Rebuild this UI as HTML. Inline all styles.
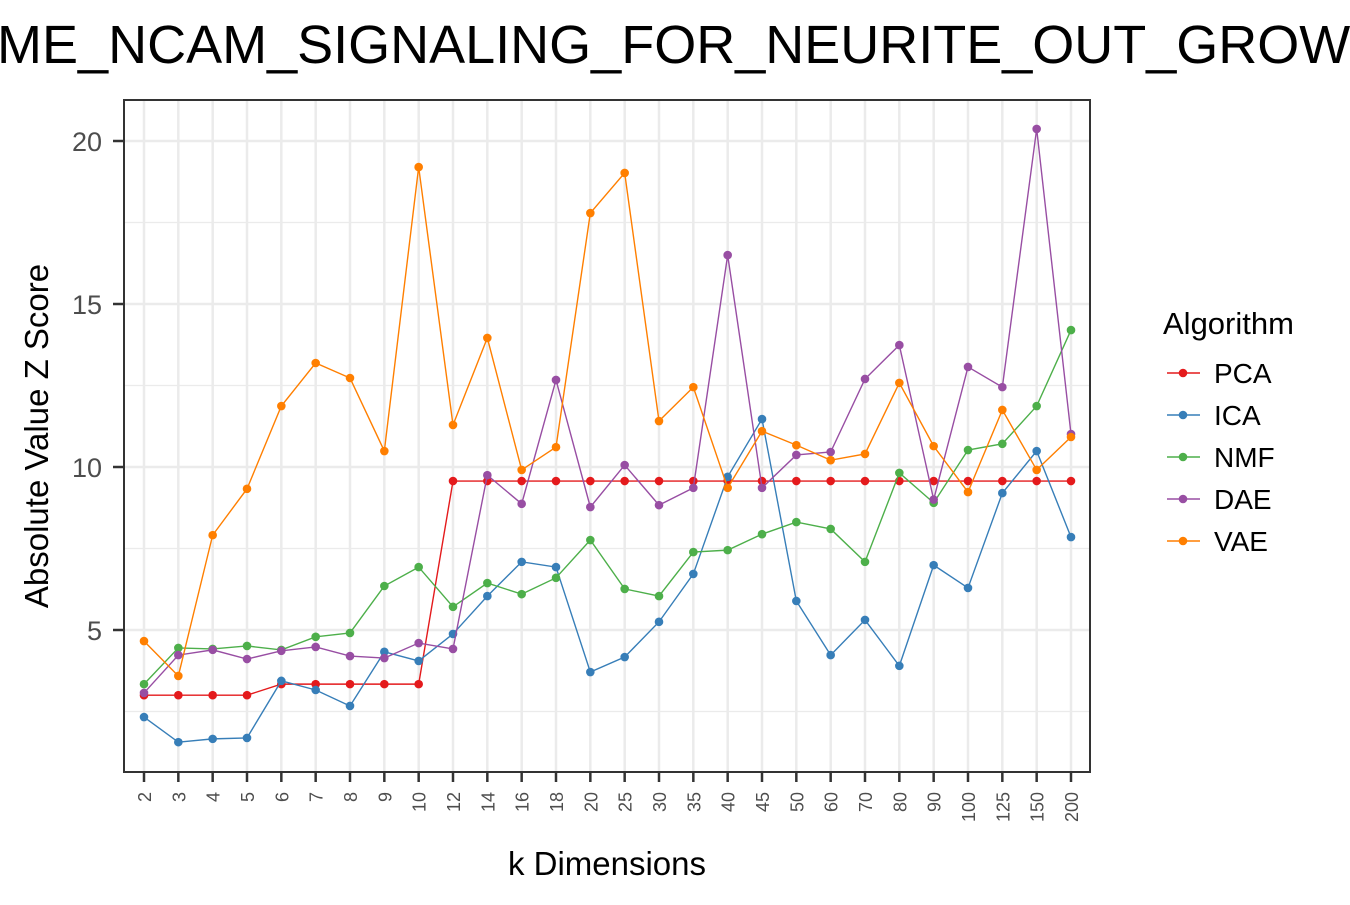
<!DOCTYPE html>
<html><head><meta charset="utf-8"><style>
body{margin:0;background:#fff;width:1350px;height:900px;overflow:hidden;font-family:"Liberation Sans",Arial,sans-serif}
</style></head><body>
<svg id="chart" width="1350" height="900" xmlns="http://www.w3.org/2000/svg" font-family="Liberation Sans, Arial, sans-serif">
<text x="-227" y="63" font-size="54" text-anchor="start" fill="#000">REACTOME_NCAM_SIGNALING_FOR_NEURITE_OUT_GROWTH</text>
<g id="grid"></g><g id="series"></g><g id="axes"></g><g id="legend"></g>
</svg>
<script>
const categories=["2","3","4","5","6","7","8","9","10","12","14","16","18","20","25","30","35","40","45","50","60","70","80","90","100","125","150","200"];
const pca=[3.0,3.0,3.0,3.0,3.34,3.34,3.34,3.34,3.34,9.57,9.57,9.57,9.57,9.57,9.57,9.57,9.57,9.57,9.57,9.57,9.57,9.57,9.57,9.57,9.57,9.57,9.57,9.57];
const ica=[2.33,1.56,1.66,1.69,3.44,3.16,2.67,4.33,4.05,4.88,6.04,7.09,6.93,3.71,4.17,5.25,6.72,9.7,11.47,5.89,4.23,5.31,3.9,6.99,6.29,9.2,10.49,7.85];
const nmf=[3.34,4.45,4.42,4.51,4.39,4.79,4.91,6.35,6.93,5.71,6.44,6.1,6.6,7.76,6.26,6.04,7.39,7.45,7.94,8.31,8.1,7.09,9.82,8.9,10.52,10.71,11.87,14.2];
const dae=[3.07,4.23,4.39,4.11,4.36,4.48,4.2,4.14,4.6,4.42,9.75,8.87,12.67,8.77,10.06,8.83,9.36,16.5,9.36,10.37,10.46,12.7,13.74,9.0,13.07,12.45,20.37,11.01];
const vae=[4.66,3.59,7.91,9.33,11.87,13.19,12.73,10.49,19.2,11.29,13.96,9.91,10.61,17.79,19.02,11.41,12.45,9.36,11.1,10.67,10.21,10.4,12.58,10.64,9.23,11.75,9.91,10.92];
const seriesNames=["PCA","ICA","NMF","DAE","VAE"];
const yTicks=[5,10,15,20];
const yMinor=[2.5,7.5,12.5,17.5];
</script>
<script>
const NS="http://www.w3.org/2000/svg";
const L=124,R=1090,T=100,B=772;
const colors=["#e41a1c","#377eb8","#4daf4a","#984ea3","#ff7f00"];
const data=[pca,ica,nmf,dae,vae];
function x(i){return 144+i*(1071-144)/(categories.length-1);}
function y(v){return 630-(v-5)*(630-141)/15;}
function mk(p,tag,a){const e=document.createElementNS(NS,tag);for(const k in a)e.setAttribute(k,a[k]);p.appendChild(e);return e;}
const grid=document.getElementById('grid'),ser=document.getElementById('series'),ax=document.getElementById('axes'),lg=document.getElementById('legend');
yMinor.forEach(v=>{const l=mk(grid,'line',{x1:L,x2:R,y1:y(v),y2:y(v),stroke:'#ebebeb','stroke-width':1.2});

});
yTicks.forEach(v=>{const l=mk(grid,'line',{x1:L,x2:R,y1:y(v),y2:y(v),stroke:'#ebebeb','stroke-width':2.5});

});
categories.forEach((c,i)=>{const l=mk(grid,'line',{x1:x(i),x2:x(i),y1:T,y2:B,stroke:'#ebebeb','stroke-width':2.5});

});
data.forEach((d,s)=>{
 const g=mk(ser,'g',{});
 
 
 mk(g,'polyline',{points:d.map((v,i)=>x(i)+','+y(v)).join(' '),fill:'none',stroke:colors[s],'stroke-width':1.4});
 d.forEach((v,i)=>{const c=mk(g,'circle',{cx:x(i),cy:y(v),r:4.3,fill:colors[s]});
 
 });
});
const fr=mk(ax,'rect',{x:L,y:T,width:R-L,height:B-T,fill:'none',stroke:'#333','stroke-width':2});


yTicks.forEach(v=>{mk(ax,'line',{x1:L-11,x2:L,y1:y(v),y2:y(v),stroke:'#333','stroke-width':2.5});
const t=mk(ax,'text',{x:L-22,y:y(v)+10,'font-size':27,'text-anchor':'end',fill:'#4d4d4d'});t.textContent=v;

});
categories.forEach((c,i)=>{mk(ax,'line',{x1:x(i),x2:x(i),y1:B,y2:B+10,stroke:'#333','stroke-width':2.5});
const t=mk(ax,'text',{x:0,y:0,'font-size':18,'text-anchor':'end',fill:'#4d4d4d',transform:`translate(${x(i)+7},${B+20}) rotate(-90)`});t.textContent=c;

});
let t=mk(ax,'text',{x:607,y:875,'font-size':33,'text-anchor':'middle',fill:'#000'});t.textContent='k Dimensions';


t=mk(ax,'text',{x:0,y:0,'font-size':33,'text-anchor':'middle',fill:'#000',transform:'translate(48,436) rotate(-90)'});t.textContent='Absolute Value Z Score';


t=mk(lg,'text',{x:1163,y:334,'font-size':31,fill:'#000'});t.textContent='Algorithm';


seriesNames.forEach((n,s)=>{const yy=373+s*42;
const g=mk(lg,'g',{});


mk(g,'line',{x1:1167,x2:1200,y1:yy,y2:yy,stroke:colors[s],'stroke-width':1.4});
mk(g,'circle',{cx:1183,cy:yy,r:4.3,fill:colors[s]});
const tt=mk(g,'text',{x:1214,y:yy+10,'font-size':28,fill:'#000'});tt.textContent=n;});
</script>
</body></html>
